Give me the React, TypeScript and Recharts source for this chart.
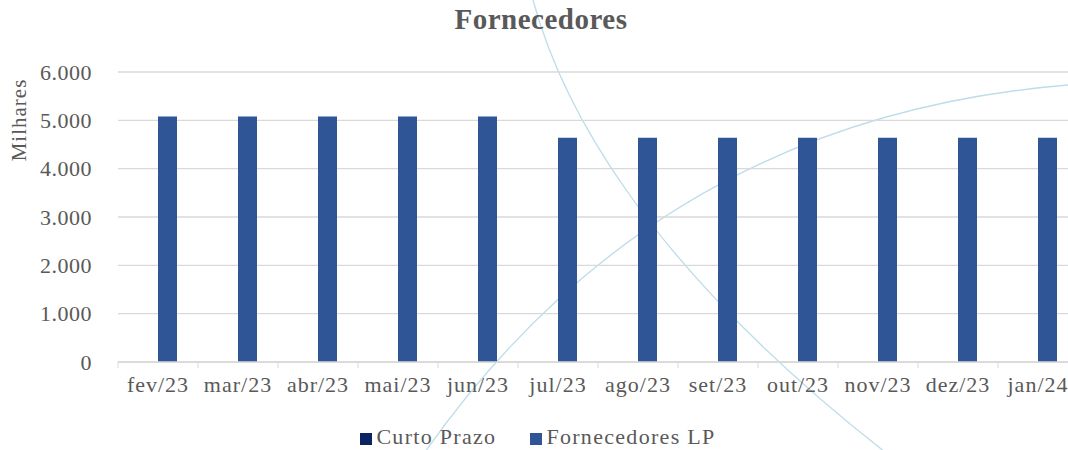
import { Bar, BarChart, CartesianGrid, Label, Legend, XAxis, YAxis } from 'recharts';

const months = ['fev/23', 'mar/23', 'abr/23', 'mai/23', 'jun/23', 'jul/23', 'ago/23', 'set/23', 'out/23', 'nov/23', 'dez/23', 'jan/24'];
const curtoPrazo = [0, 0, 0, 0, 0, 0, 0, 0, 0, 0, 0, 0];
const fornecedoresLP = [5080, 5080, 5080, 5080, 5080, 4640, 4640, 4640, 4640, 4640, 4640, 4640];
const yTicks = [0, 1000, 2000, 3000, 4000, 5000, 6000];

const data = months.map((m, i) => ({ month: m, curto: curtoPrazo[i], lp: fornecedoresLP[i] }));

const FONT = '"Liberation Serif", serif';
const TEXT = '#595959';
const CHART_W = 1090;
const MARGIN = { top: 72, right: 12, bottom: 0, left: 0 };
const Y_W = 118;
const BAND = (CHART_W - MARGIN.left - MARGIN.right - Y_W) / months.length;

const fmt = (v: number) => (v === 0 ? '0' : v.toLocaleString('de-DE'));

function MonthTick(props: any) {
  const { x, y, payload } = props;
  return (
    <g>
      <line x1={x - BAND / 2} x2={x - BAND / 2} y1={y - 8} y2={y - 2} stroke="#d9d9d9" />
      <text
        x={x}
        y={y + 6}
        dy="0.71em"
        textAnchor="middle"
        fill={TEXT}
        fontSize={22}
        letterSpacing={1}
        fontFamily={FONT}
      >
        {payload.value}
      </text>
    </g>
  );
}

export default function App() {
  return (
    <div style={{ position: 'absolute', left: 0, top: 0, width: 1068, height: 450, overflow: 'hidden', background: '#fff' }}>
      <svg width={1068} height={450} style={{ position: 'absolute', left: 0, top: 0 }}>
        <path d="M 533 0 C 560 100, 640 260, 885 452" fill="none" stroke="#bcdde9" strokeWidth={1.3} />
        <path d="M 425 452 C 560 260, 760 110, 1068 85" fill="none" stroke="#bcdde9" strokeWidth={1.3} />
      </svg>
      <div
        style={{
          position: 'absolute',
          top: 3,
          left: 0,
          width: 1082,
          textAlign: 'center',
          fontFamily: FONT,
          fontWeight: 'bold',
          fontSize: 29,
          letterSpacing: 0.5,
          color: TEXT,
        }}
      >
        Fornecedores
      </div>
      <div style={{ position: 'absolute', left: 0, top: 0 }}>
        <BarChart width={CHART_W} height={450} data={data} margin={MARGIN} barGap={0} barSize={19}>
          <CartesianGrid vertical={false} stroke="#d9d9d9" strokeWidth={1.3} />
          <XAxis
            dataKey="month"
            interval={0}
            axisLine={{ stroke: '#d9d9d9', strokeWidth: 1.3 }}
            tickLine={false}
            tick={<MonthTick />}
            height={62}
          />
          <YAxis
            width={Y_W}
            domain={[0, 6000]}
            ticks={yTicks}
            tickFormatter={fmt}
            axisLine={false}
            tickLine={false}
            tickSize={0}
            tickMargin={26}
            tick={{ fill: TEXT, fontSize: 22, fontFamily: FONT, letterSpacing: 0.5 }}
          >
            <Label
              content={({ viewBox }: any) => (
                <text
                  x={viewBox.x + 26}
                  y={viewBox.y + 48}
                  transform={`rotate(-90, ${viewBox.x + 26}, ${viewBox.y + 48})`}
                  textAnchor="middle"
                  fill={TEXT}
                  fontSize={21}
                  letterSpacing={1}
                  fontFamily={FONT}
                >
                  Milhares
                </text>
              )}
            />
          </YAxis>
          <Legend
            iconType="square"
            iconSize={12}
            wrapperStyle={{ fontFamily: FONT, fontSize: 22, letterSpacing: 1.3, left: 10, width: CHART_W }}
            formatter={(value: string) => <span style={{ color: TEXT, marginRight: 24 }}>{value}</span>}
          />
          <Bar dataKey="curto" name="Curto Prazo" fill="#0c2461" isAnimationActive={false} />
          <Bar dataKey="lp" name="Fornecedores LP" fill="#2f5597" isAnimationActive={false} />
        </BarChart>
      </div>
    </div>
  );
}
